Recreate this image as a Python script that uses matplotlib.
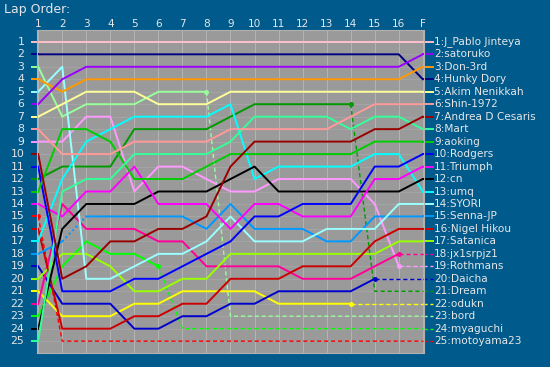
import numpy as np
import matplotlib.pyplot as plt

# naglowki kolumn (okrazenia)
lap_labels = [str(i) for i in range(1, 17)] + ["F"]

# kierowcy w kolejnosci koncowej
names = ["J_Pablo Jinteya", "satoruko", "Don-3rd", "Hunky Dory", "Akim Nenikkah",
         "Shin-1972", "Andrea D Cesaris", "Mart", "aoking", "Rodgers", "Triumph",
         "cn", "umq", "SYORI", "Senna-JP", "Nigel Hikou", "Satanica", "jx1srpjz1",
         "Rothmans", "Daicha", "Dream", "odukn", "bord", "myaguchi", "motoyama23"]

colors = ["#FFC0CB", "#9900FF", "#FF9900", "#000080", "#FFFF99",
          "#FF9999", "#990000", "#33FF99", "#00CC00", "#0000FF", "#FF00FF",
          "#000000", "#00FFFF", "#99FFFF", "#0099FF", "#CC0000", "#99FF00",
          "#FF0099", "#FF99FF", "#0000CC", "#009900", "#FFFF00", "#99FF99",
          "#00FF00", "#FF0000"]

# pozycje: start (kolumna 1) ... kolumna F
p_jpablo = [1, 1, 1, 1, 1, 1, 1, 1, 1, 1, 1, 1, 1, 1, 1, 1, 1]
p_satoruko = [6, 4, 3, 3, 3, 3, 3, 3, 3, 3, 3, 3, 3, 3, 3, 3, 2]
p_don = [4, 5, 4, 4, 4, 4, 4, 4, 4, 4, 4, 4, 4, 4, 4, 4, 3]
p_hunky = [2, 2, 2, 2, 2, 2, 2, 2, 2, 2, 2, 2, 2, 2, 2, 2, 4]
p_akim = [7, 6, 5, 5, 5, 6, 6, 6, 5, 5, 5, 5, 5, 5, 5, 5, 5]
p_shin = [8, 10, 10, 10, 9, 9, 9, 9, 8, 8, 8, 8, 8, 7, 6, 6, 6]
p_andrea = [10, 20, 19, 17, 17, 16, 16, 15, 11, 9, 9, 9, 9, 9, 8, 8, 7]
p_mart = [25, 13, 12, 12, 10, 10, 10, 10, 9, 7, 7, 7, 7, 8, 7, 7, 8]
p_aoking = [13, 8, 8, 9, 12, 12, 12, 11, 10, 10, 10, 10, 10, 10, 9, 9, 9]
p_rodgers = [11, 21, 21, 21, 20, 20, 19, 18, 17, 15, 15, 14, 14, 14, 11, 11, 10]
p_triumph = [14, 15, 13, 13, 11, 14, 14, 14, 16, 14, 14, 15, 15, 15, 12, 12, 11]
p_cn = [24, 16, 14, 14, 14, 13, 13, 13, 12, 11, 13, 13, 13, 13, 13, 13, 12]
p_umq = [17, 12, 9, 8, 7, 7, 7, 7, 6, 12, 11, 11, 11, 11, 10, 10, 13]
p_syori = [5, 3, 20, 20, 19, 18, 18, 17, 15, 17, 17, 17, 16, 16, 16, 14, 14]
p_senna = [18, 17, 15, 15, 15, 15, 15, 16, 14, 16, 16, 16, 17, 17, 15, 15, 15]
p_nigel = [16, 24, 24, 24, 23, 23, 22, 22, 20, 20, 20, 19, 19, 19, 17, 16, 16]
p_satanica = [20, 18, 18, 19, 21, 21, 20, 20, 18, 18, 18, 18, 18, 18, 18, 17, 17]
p_jx1 = [22, 14, 16, 16, 16, 17, 17, 19, 19, 19, 19, 20, 20, 20, 19, 18, 18]
p_rothmans = [9, 9, 7, 7, 13, 11, 11, 12, 13, 13, 12, 12, 12, 12, 14, 19, 19]
p_daicha = [19, 22, 22, 22, 24, 24, 23, 23, 22, 22, 21, 21, 21, 21, 20, 20, 20]
p_dream = [12, 11, 11, 11, 8, 8, 8, 8, 7, 6, 6, 6, 6, 6, 21, 21, 21]
p_odukn = [21, 23, 23, 23, 22, 22, 21, 21, 21, 21, 22, 22, 22, 22, 22, 22, 22]
p_bord = [3, 7, 6, 6, 6, 5, 5, 5, 23, 23, 23, 23, 23, 23, 23, 23, 23]
p_myaguchi = [23, 19, 17, 18, 18, 19, 24, 24, 24, 24, 24, 24, 24, 24, 24, 24, 24]
p_motoyama = [15, 25, 25, 25, 25, 25, 25, 25, 25, 25, 25, 25, 25, 25, 25, 25, 25]

positions = [p_jpablo, p_satoruko, p_don, p_hunky, p_akim, p_shin, p_andrea,
             p_mart, p_aoking, p_rodgers, p_triumph, p_cn, p_umq, p_syori,
             p_senna, p_nigel, p_satanica, p_jx1, p_rothmans, p_daicha,
             p_dream, p_odukn, p_bord, p_myaguchi, p_motoyama]

# ostatnia kolumna jazdy (dalej linia przerywana) - None = dojechal
last_lap = [None] * 17 + [15, 15, 14, 13, 13, 7, 5, 0]

# odcinek kropkowany (Senna-JP, kolumna 2 -> 3)
dotted = {"Senna-JP": 1}

bg = "#005A8C"
txt = "#E6E6E6"

fig = plt.figure(figsize=(5.5, 3.67), dpi=100)
fig.patch.set_facecolor(bg)
ax = fig.add_axes([37 / 550, 1 - 353 / 367, 387 / 550, 323 / 367])
ax.set_facecolor("#9A9A9A")
ax.set_xlim(-0.05, 16.05)
ax.set_ylim(25.95, 0.05)
for s in ax.spines.values():
    s.set_color("#B0B0B0")
    s.set_linewidth(0.8)
ax.set_xticks([])
ax.set_yticks([])

# siatka
for i in range(17):
    ax.axvline(i, color="#B4B4B4", lw=0.7, zorder=0)
for r in range(1, 26):
    ax.axhline(r, color="#A6A6A6", lw=0.6, zorder=0)

x = np.arange(17)
lw = 1.4
for n in range(len(names) - 1, -1, -1):
    p = np.array(positions[n])
    c = colors[n]
    k = last_lap[n]
    if k is None:
        k = 16
    if names[n] in dotted:
        d = dotted[names[n]]
        ax.plot(x[:d + 1], p[:d + 1], color=c, lw=lw)
        ax.plot(x[d:d + 2], p[d:d + 2], color=c, lw=lw, ls=(0, (1, 1.5)))
        ax.plot(x[d + 1:k + 1], p[d + 1:k + 1], color=c, lw=lw)
    else:
        ax.plot(x[:k + 1], p[:k + 1], color=c, lw=lw)
    # start
    ax.plot([-0.26, 0], [p[0], p[0]], color=c, lw=lw, clip_on=False)
    if k < 16:
        ax.plot(x[k:], p[k:], color=c, lw=1.0, ls=(0, (3, 2)))
        ax.plot(x[k], p[k], "o", color=c, ms=2.5)
        ax.plot([16, 16.42], [p[-1], p[-1]], color=c, lw=1.0, ls=(0, (3, 2)),
                clip_on=False)
    else:
        ax.plot([16, 16.42], [p[-1], p[-1]], color=c, lw=lw, clip_on=False)
    ax.text(16.47, p[-1], "{}:{}".format(n + 1, names[n]), color=txt,
            fontsize=7.6, va="center", ha="left", clip_on=False)

# opisy osi
for i, lab in enumerate(lap_labels):
    ax.text(i, -0.45, lab, color=txt, fontsize=7.6, ha="center", va="center",
            clip_on=False)
for r in range(1, 26):
    ax.text(-0.58, r, str(r), color=txt, fontsize=7.8, ha="right", va="center",
            clip_on=False)

fig.text(4 / 550, 1 - 9 / 367, "Lap Order:", color=txt, fontsize=9,
         ha="left", va="center")

fig.savefig("out.png", dpi=100, facecolor=bg)
